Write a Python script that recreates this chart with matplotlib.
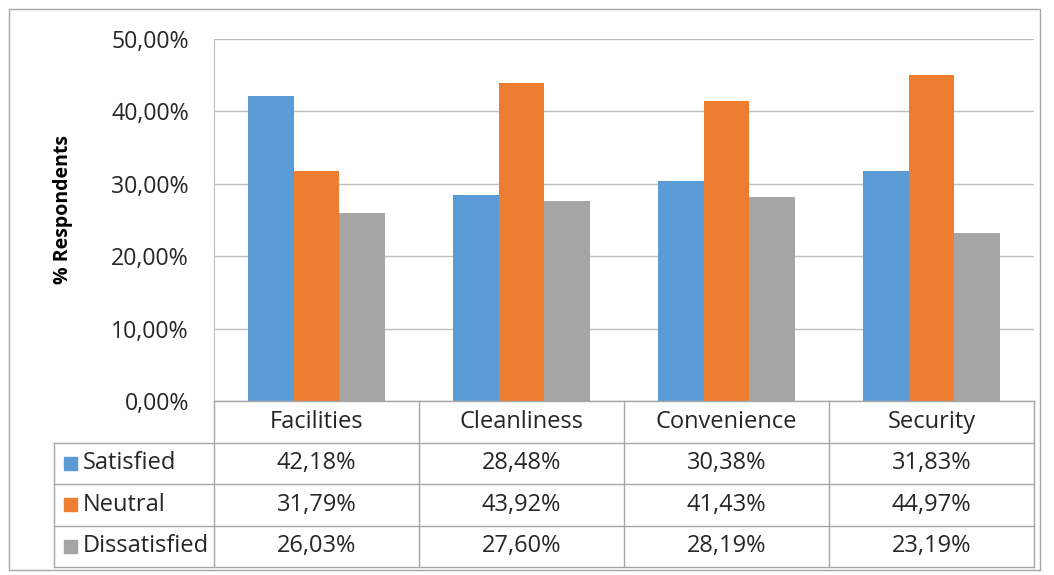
import numpy as np
import matplotlib.pyplot as plt
from matplotlib.patches import Rectangle

categories = ["Facilities", "Cleanliness", "Convenience", "Security"]
series = ["Satisfied", "Neutral", "Dissatisfied"]
satisfied = [42.18, 28.48, 30.38, 31.83]
neutral = [31.79, 43.92, 41.43, 44.97]
dissatisfied = [26.03, 27.60, 28.19, 23.19]
yticks = [0, 10, 20, 30, 40, 50]

colors = ["#5B9BD5", "#ED7D31", "#A5A5A5"]
grid_c = "#BFBFBF"
line_c = "#A6A6A6"
text_c = "#262626"

plt.rcParams['font.family'] = ['Open Sans', 'DejaVu Sans']

W, H = 1054, 575
fig = plt.figure(figsize=(W / 100, H / 100), dpi=100)


def px(l, t, r, b):
    return [l / W, 1 - b / H, (r - l) / W, (b - t) / H]


# outer chart border
fig.add_artist(Rectangle((9 / W, 1 - 570 / H), (1040 - 9) / W, (570 - 9) / H,
                         transform=fig.transFigure, fill=False, ec=line_c, lw=1))

ax = fig.add_axes(px(214, 39, 1034, 401))
x = np.arange(len(categories))
w = 0.223
values = [satisfied, neutral, dissatisfied]
for i, (vals, c) in enumerate(zip(values, colors)):
    ax.bar(x + (i - 1) * w, vals, width=w, color=c, zorder=3)

ax.set_xlim(-0.5, len(categories) - 0.5)
ax.set_ylim(0, 50)
ax.set_yticks(yticks)
ax.set_yticklabels([f"{v:.2f}%".replace(".", ",") for v in yticks], fontsize=16.7, color=text_c)
ax.tick_params(axis="y", length=0, pad=18)
ax.set_xticks([])
ax.yaxis.grid(True, color=grid_c, lw=1, zorder=0)
for s in ["top", "right", "bottom"]:
    ax.spines[s].set_visible(False)
ax.spines["left"].set_color(grid_c)
ax.set_ylabel("% Respondents", fontsize=14, fontweight="bold", color="black")
ax.yaxis.set_label_coords(-141 / 820, 0.53)

# data table below the plot
tab = fig.add_axes(px(54, 401, 1034, 567))
left = -0.5 - 160 / 205
tab.set_xlim(left, len(categories) - 0.5)
tab.set_ylim(4, 0)
tab.axis("off")

# grid lines of the table
for k in range(len(categories) + 1):
    tab.plot([k - 0.5, k - 0.5], [0, 4], color=line_c, lw=1, clip_on=False)
tab.plot([left, left], [1, 4], color=line_c, lw=1, clip_on=False)
for r in range(1, 5):
    tab.plot([left, len(categories) - 0.5], [r, r], color=line_c, lw=1, clip_on=False)
tab.plot([-0.5, len(categories) - 0.5], [0, 0], color=line_c, lw=1, clip_on=False)

for j, cat in enumerate(categories):
    tab.text(j, 0.5, cat, ha="center", va="center", fontsize=17, color=text_c)
for i, (name, vals, c) in enumerate(zip(series, values, colors)):
    tab.add_patch(Rectangle((left + 10 / 205, i + 1.5 - 0.16), 13 / 205, 0.32,
                            color=c, clip_on=False))
    tab.text(left + 29 / 205, i + 1.5, name, ha="left", va="center", fontsize=17, color=text_c)
    for j, v in enumerate(vals):
        tab.text(j, i + 1.5, f"{v:.2f}%".replace(".", ","), ha="center", va="center",
                 fontsize=17, color=text_c)

fig.savefig("out.png", dpi=100)
